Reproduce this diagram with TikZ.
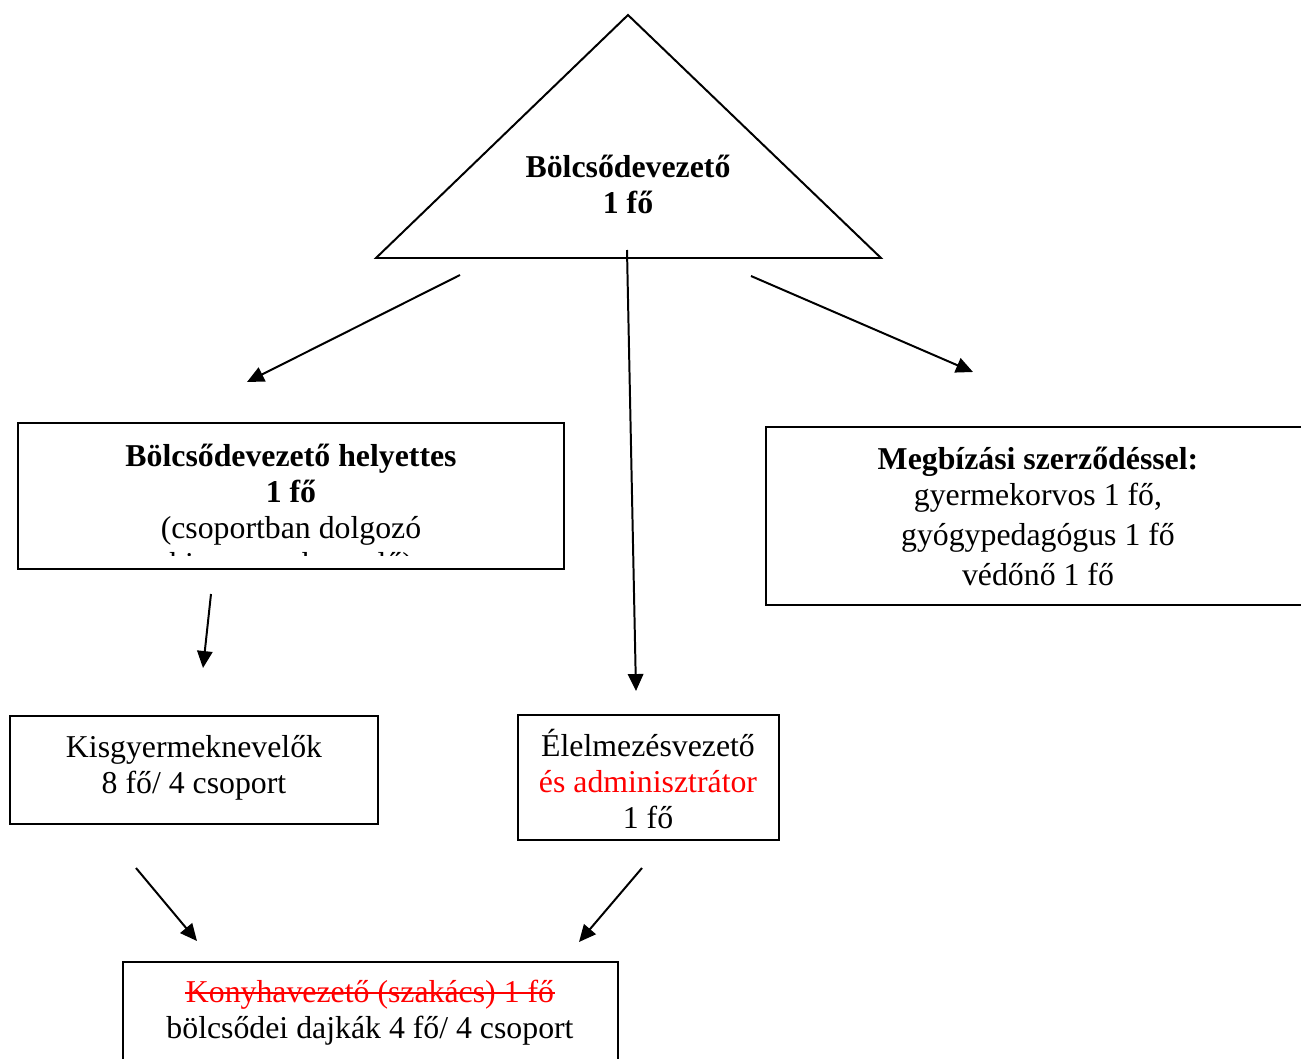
\documentclass[tikz,border=0pt]{standalone}
\usepackage{fontspec}
\setmainfont{Liberation Serif}
\usetikzlibrary{arrows.meta}
\begin{document}
\begin{tikzpicture}[x=0.3774pt,y=-0.3774pt,
  line width=0.75pt,
  txt/.style={inner sep=0pt,align=center,font=\fontsize{12}{13.6}\selectfont},
  box/.style={draw,line width=0.75pt,inner sep=0pt},
  arr/.style={-{Triangle[length=6.4pt,width=5.8pt]},line width=0.75pt}]
\clip (0,0) rectangle (1301,1059);
% top triangle
\draw (628,15) -- (376,258) -- (881,258) -- cycle;
\node[txt,font=\fontsize{12}{13.6}\selectfont\bfseries] (boss) at (628,184) {Bölcsődevezető\\1 fő};
% deputy box
\node[box,minimum width=546*0.3774pt,minimum height=146*0.3774pt] (hely) at (291,496) {};
\begin{scope}
\clip (18,423) rectangle (564,555);
\node[txt] (helytxt) at (291,513) {\textbf{Bölcsődevezető helyettes}\\\textbf{1 fő}\\(csoportban dolgozó\\kisgyermeknevelő)};
\end{scope}
% contract box
\node[box,minimum width=560*0.3774pt,minimum height=178*0.3774pt] (megb) at (1046,516) {};
\node[txt] (megbtxt) at (1038,516) {\textbf{Megbízási szerződéssel:}\\gyermekorvos 1 fő,\\[1.5pt]gyógypedagógus 1 fő\\[1.5pt]védőnő 1 fő};
% Kisgyermeknevelők
\node[box,minimum width=368*0.3774pt,minimum height=108*0.3774pt] (kisgy) at (194,770) {};
\node[txt] (kisgytxt) at (194,768) {Kisgyermeknevelők\\8 fő/ 4 csoport};
% Élelmezésvezető
\node[box,minimum width=261*0.3774pt,minimum height=125*0.3774pt] (elel) at (648.5,777.5) {};
\node[txt] (eleltxt) at (648,779) {Élelmezésvezető\\\textcolor{red}{és adminisztrátor}\\1 fő};
% bottom box
\node[box,minimum width=495*0.3774pt,minimum height=140*0.3774pt] (dajka) at (370.5,1032) {};
\node[txt,anchor=base,text=red] (konyha) at (370,1002) {Konyhavezető (szakács) 1 fő};
\node[txt,anchor=base] (dajkatxt) at (370,1038) {bölcsődei dajkák 4 fő/ 4 csoport};
\draw[red,line width=0.6pt] ([yshift=3.4pt]konyha.base west) -- ([yshift=3.4pt]konyha.base east);
% arrow end points
\coordinate (a1s) at (460,275); \coordinate (a1e) at (247,382);
\coordinate (a2s) at (627,250); \coordinate (a2e) at (636,691);
\coordinate (a3s) at (751,276); \coordinate (a3e) at (973,372);
\coordinate (a4s) at (211,594); \coordinate (a4e) at (203,668);
\coordinate (a5s) at (136,868); \coordinate (a5e) at (197,941);
\coordinate (a6s) at (642,868); \coordinate (a6e) at (579,942);
\draw[arr] (a1s) -- (a1e);
\draw[arr] (a2s) -- (a2e);
\draw[arr] (a3s) -- (a3e);
\draw[arr] (a4s) -- (a4e);
\draw[arr] (a5s) -- (a5e);
\draw[arr] (a6s) -- (a6e);
\end{tikzpicture}
\end{document}
